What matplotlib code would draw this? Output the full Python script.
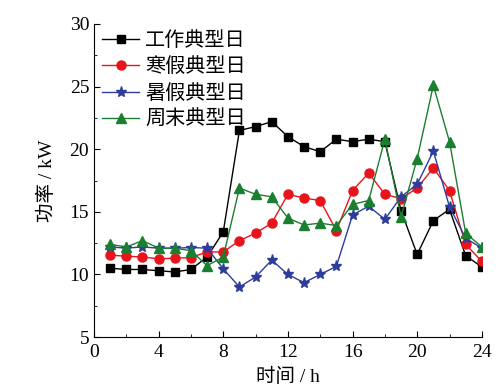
import numpy as np
import matplotlib.pyplot as plt
from matplotlib.ticker import MultipleLocator

plt.rcParams['font.family'] = ['Liberation Serif', 'Noto Sans CJK SC']
plt.rcParams['mathtext.fontset'] = 'stix'

hours = np.arange(1, 25)
workday = [10.5, 10.4, 10.4, 10.3, 10.2, 10.4, 11.4, 13.4, 21.5, 21.8, 22.2, 21.0,
           20.2, 19.8, 20.8, 20.6, 20.8, 20.6, 15.1, 11.6, 14.3, 15.2, 11.5, 10.6]
winter = [11.55, 11.45, 11.4, 11.25, 11.3, 11.35, 11.8, 11.8, 12.7, 13.3, 14.1, 16.4,
          16.1, 15.9, 13.5, 16.7, 18.1, 16.4, 16.05, 16.9, 18.5, 16.7, 12.4, 11.05]
summer = [12.2, 12.1, 12.2, 12.1, 12.1, 12.15, 12.1, 10.45, 9.0, 9.8, 11.15, 10.0,
          9.35, 10.0, 10.65, 14.75, 15.45, 14.4, 16.2, 17.2, 19.85, 15.4, 12.9, 12.1]
weekend = [12.4, 12.2, 12.7, 12.1, 12.1, 11.9, 10.7, 11.4, 16.9, 16.4, 16.2, 14.5,
           13.95, 14.1, 13.9, 15.6, 15.9, 20.8, 14.6, 19.25, 25.1, 20.6, 13.3, 12.2]
labels = ['工作典型日', '寒假典型日', '暑假典型日', '周末典型日']

fig = plt.figure(figsize=(5.04, 3.92), dpi=100)
ax = fig.add_axes([0.1865, 0.140, 0.7695, 0.799])

ax.plot(hours, workday, color='black', marker='s', ms=6, lw=1, label=labels[0])
ax.plot(hours, winter, color='#e8141c', marker='o', ms=6.5, lw=1, label=labels[1])
ax.plot(hours, summer, color='#2e3d99', marker='*', ms=8, lw=1, label=labels[2])
ax.plot(hours, weekend, color='#1a7f30', marker='^', ms=7, lw=1, label=labels[3])

ax.set_xlim(0, 24)
ax.set_ylim(5, 30)
ax.xaxis.set_major_locator(MultipleLocator(4))
ax.xaxis.set_minor_locator(MultipleLocator(2))
ax.yaxis.set_major_locator(MultipleLocator(5))
ax.yaxis.set_minor_locator(MultipleLocator(2.5))
ax.tick_params(which='both', direction='in', labelsize=14)
ax.tick_params(axis='x', pad=5)
ax.tick_params(which='major', length=4)
ax.tick_params(which='minor', length=2.5)
ax.spines['top'].set_visible(False)
ax.spines['right'].set_visible(False)

ax.set_xlabel('时间 / h', fontsize=14, labelpad=5)
ax.set_ylabel('功率 / kW', fontsize=14, labelpad=10)

ax.legend(loc='upper left', frameon=False, fontsize=14.5, handlelength=1.85,
          borderaxespad=0.2, borderpad=0.2, labelspacing=0.36, handletextpad=0.3)

fig.savefig('out.png', dpi=100)
